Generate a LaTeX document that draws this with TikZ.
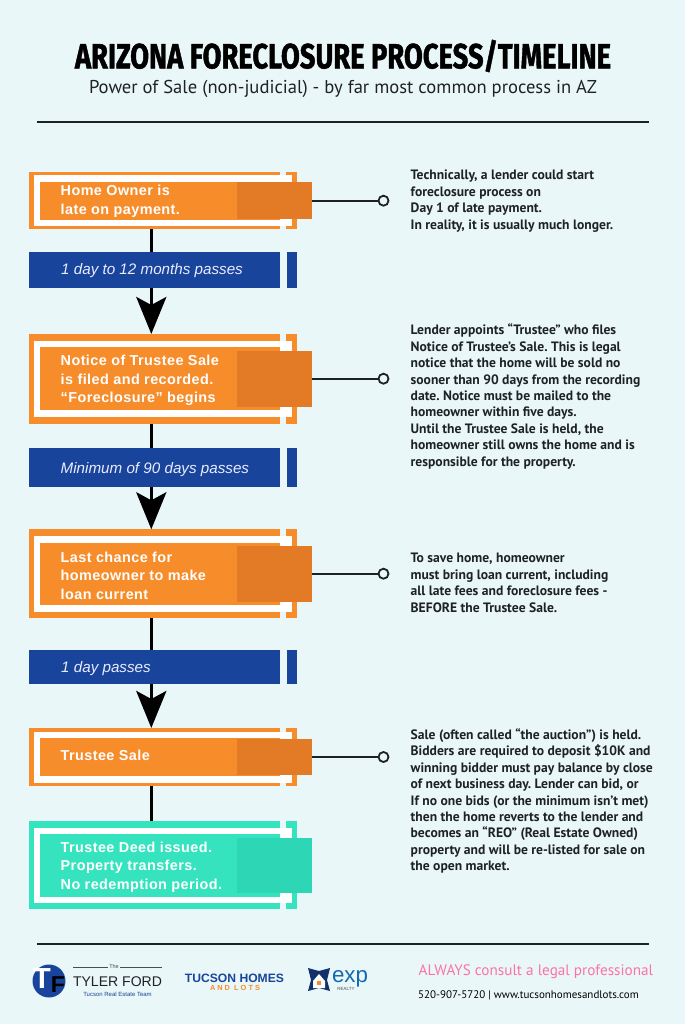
\documentclass[tikz,border=0pt]{standalone}
\usepackage{fontspec}
\usepackage{graphicx}
\usetikzlibrary{arrows.meta}
\setmainfont{Liberation Sans}
\newfontfamily\boxfont[LetterSpace=3,BoldFont={Liberation Sans Bold}]{Liberation Sans}
\newfontfamily\notefont{PT Sans}
\newfontfamily\titlefont[FakeBold=1.5]{Fira Sans}
\frenchspacing
\definecolor{bgc}{HTML}{EAF7F8}
\definecolor{orangeA}{HTML}{F78C2B}
\definecolor{orangeB}{HTML}{E27A26}
\definecolor{tealA}{HTML}{35E3BE}
\definecolor{tealB}{HTML}{2DD6B5}
\definecolor{blueA}{HTML}{18459B}
\definecolor{pinkA}{HTML}{FB74A5}
\definecolor{inkA}{HTML}{1E2226}
\tikzset{
  rect/.style={rectangle,anchor=north west,inner sep=0pt,outer sep=0pt,draw=none},
  boxtext/.style={anchor=west,align=left,text=white,inner sep=0pt,font=\boxfont\bfseries\fontsize{14.4}{18.5}\selectfont},
  bluetext/.style={anchor=west,align=left,text=blue!8!white,inner sep=0pt,font=\itshape\fontsize{15.2}{18}\selectfont},
  notetext/.style={anchor=west,align=left,text=inkA,inner sep=0pt,font=\notefont\bfseries\frenchspacing\fontsize{13.6}{16.45}\selectfont},
  stem/.style={line width=3.5pt,black},
  stemarrow/.style={stem,-{Stealth[length=37pt,width=30pt,inset=8pt]}},
  lead/.style={line width=2pt,inkA},
  dot/.style={circle,draw=inkA,line width=1.8pt,fill=bgc,minimum size=10pt,inner sep=0pt,outer sep=0pt},
  rulel/.style={line width=1.8pt,inkA},
}
\newcommand\bx[6]{\pgfmathsetmacro\bxw{#4-#2}\pgfmathsetmacro\bxh{#5-#3}%
  \node[rect,minimum width=\bxw pt,minimum height=\bxh pt,#6] (#1) at (#2,#3) {};}
% name, colA, colB, outer top, outer bottom, inner top, inner bottom, dark top, dark bottom
\newcommand\flowbox[9]{%
  \bx{#1}{29}{#4}{297}{#5}{fill=#2}
  \fill[bgc] (280,#4) rectangle (286,#5);
  \fill[white] (34,#6-6.5) rectangle (292,#7+6.5);
  \bx{#1in}{40}{#6}{280}{#7}{fill=#2}
  \bx{#1dk}{237}{#8}{312}{#9}{fill=#3}
}
\newcommand\bluebar[3]{%
  \bx{#1}{29}{#2}{280}{#3}{fill=blueA}
  \bx{#1b}{286.5}{#2}{297}{#3}{fill=blueA}
}
\begin{document}
\begin{tikzpicture}[x=1pt,y=-1pt]
\useasboundingbox (0,0) rectangle (685,1024);
\fill[bgc] (0,0) rectangle (685,1024);
\coordinate (spine) at (151.3,0);

% title
\node[inner sep=0pt] (title) at (343,56) {\resizebox{536pt}{28.5pt}{\titlefont\bfseries ARIZONA FORECLOSURE PROCESS/TIMELINE}};
\node[inner sep=0pt,text=inkA,font=\notefont\fontsize{18.6}{22}\selectfont] (sub) at (343,89) {Power of Sale (non-judicial) - by far most common process in AZ};
\coordinate (ruleAl) at (37,122); \coordinate (ruleAr) at (649,122);
\draw[rulel] (ruleAl) -- (ruleAr);
\coordinate (ruleBl) at (37,944); \coordinate (ruleBr) at (649,944);
\draw[rulel] (ruleBl) -- (ruleBr);

% boxes
\flowbox{boxA}{orangeA}{orangeB}{172}{229}{182}{220}{182.5}{219}
\flowbox{boxB}{orangeA}{orangeB}{334}{423.5}{347}{410}{351}{406.5}
\flowbox{boxC}{orangeA}{orangeB}{529.3}{618}{542.7}{605.3}{546}{602}
\flowbox{boxD}{orangeA}{orangeB}{728}{785.5}{738}{776}{739}{775}
\flowbox{boxE}{tealA}{tealB}{821}{909}{834}{896.5}{837.5}{893}
\bluebar{barA}{251.7}{288}
\bluebar{barB}{448.3}{487.3}
\bluebar{barC}{650}{684}

% stems
\draw[stem] (boxA.south -| spine) -- (barA.north -| spine);
\draw[stemarrow] (barA.south -| spine) -- (boxB.north -| spine);
\draw[stem] (boxB.south -| spine) -- (barB.north -| spine);
\draw[stemarrow] (barB.south -| spine) -- (boxC.north -| spine);
\draw[stem] (boxC.south -| spine) -- (barC.north -| spine);
\draw[stemarrow] (barC.south -| spine) -- (boxD.north -| spine);
\draw[stem] (boxD.south -| spine) -- (boxE.north -| spine);

% box labels
\node[boxtext] (tA) at (60.5,201.5) {Home Owner is\\late on payment.};
\node[boxtext] (tB) at (60.5,380.5) {Notice of Trustee Sale\\is filed and recorded.\\“Foreclosure” begins};
\node[boxtext] (tC) at (60.5,575.5) {Last chance for\\homeowner to make\\loan current};
\node[boxtext] (tD) at (60.5,755) {Trustee Sale};
\node[boxtext] (tE) at (60.5,867) {Trustee Deed issued.\\Property transfers.\\No redemption period.};
\node[bluetext] (bA) at (61,271) {1 day to 12 months passes};
\node[bluetext] (bB) at (60.5,469.5) {Minimum of 90 days passes};
\node[bluetext] (bC) at (61,669) {1 day passes};

% leaders
\node[dot] (dA) at (383.5,200.7) {};
\node[dot] (dB) at (383.5,378.7) {};
\node[dot] (dC) at (383.5,573.7) {};
\node[dot] (dD) at (383.5,757) {};
\draw[lead] (boxAdk.east |- dA) -- (dA);
\draw[lead] (boxBdk.east |- dB) -- (dB);
\draw[lead] (boxCdk.east |- dC) -- (dC);
\draw[lead] (boxDdk.east |- dD) -- (dD);

% notes
\node[notetext] (nA) at (410.5,201) {Technically, a lender could start\\foreclosure process on\\Day 1 of late payment.\\In reality, it is usually much longer.};
\node[notetext] (nB) at (410.5,396.5) {Lender appoints “Trustee” who files\\Notice of Trustee’s Sale. This is legal\\notice that the home will be sold no\\sooner than 90 days from the recording\\date. Notice must be mailed to the\\homeowner within five days.\\Until the Trustee Sale is held, the\\homeowner still owns the home and is\\responsible for the property.};
\node[notetext] (nC) at (410.5,583) {To save home, homeowner\\must bring loan current, including\\all late fees and foreclosure fees -\\BEFORE the Trustee Sale.};
\node[notetext] (nD) at (410.5,801) {Sale (often called “the auction”) is held.\\Bidders are required to deposit \$10K and\\winning bidder must pay balance by close\\of next business day. Lender can bid, or\\If no one bids (or the minimum isn’t met)\\then the home reverts to the lender and\\becomes an “REO” (Real Estate Owned)\\property and will be re-listed for sale on\\the open market.};

% footer: Tyler Ford logo
\fill[blueA] (49,981) circle (16.5);
\node[inner sep=0pt,text=white,font=\bfseries\fontsize{29}{29}\selectfont] (logoT) at (42,979) {T};
\node[inner sep=0pt,text=black,font=\bfseries\fontsize{23}{23}\selectfont] (logoF) at (58,985) {F};
\coordinate (lnA) at (73,967); \coordinate (lnB) at (108,967);
\coordinate (lnC) at (120,967); \coordinate (lnD) at (162,967);
\draw[line width=0.6pt,black!70] (lnA) -- (lnB) (lnC) -- (lnD);
\node[inner sep=0pt,font=\fontsize{5.5}{6}\selectfont,text=black!70] (lgThe) at (114,967) {The};
\node[inner sep=0pt,font=\fontsize{16}{16}\selectfont,text=inkA] (lgTF) at (117.5,982) {\resizebox{89pt}{!}{TYLER FORD}};
\node[inner sep=0pt,font=\fontsize{6}{6}\selectfont,text=blueA] (lgTeam) at (117.5,994.5) {Tucson Real Estate Team};
% Tucson Homes and Lots
\node[inner sep=0pt,text=blueA] (lgTH) at (234.5,978) {\resizebox{99pt}{!}{\bfseries TUCSON HOMES}};
\node[inner sep=0pt,text=orangeA] (lgAL) at (235,988) {\resizebox{50pt}{!}{\bfseries A N D\ \ L O T S}};
% eXp
\fill[blueA!70!black] (308,968) -- (319,971) -- (330,968) -- (327,980) -- (330,991) -- (319,988) -- (308,991) -- (311,980) -- cycle;
\fill[white] (313,981) -- (319,974) -- (325,981) -- (325,988) -- (313,988) -- cycle;
\fill[orangeA] (317,981) rectangle (321,985);
\node[inner sep=0pt,text=blueA!80!cyan] (lgExp) at (350,979) {\resizebox{36pt}{!}{exp}};
\node[inner sep=0pt,text=black!70,font=\fontsize{4.5}{5}\selectfont] (lgRealty) at (346,988.5) {REALTY};
% contact
\node[anchor=west,inner sep=0pt,text=pinkA,font=\notefont\fontsize{15.2}{18}\selectfont] (always) at (418.5,972) {ALWAYS consult a legal professional};
\node[anchor=west,inner sep=0pt,text=black,font=\notefont\fontsize{11}{13}\selectfont] (phone) at (418,995) {520-907-5720 | www.tucsonhomesandlots.com};
\end{tikzpicture}
\end{document}
